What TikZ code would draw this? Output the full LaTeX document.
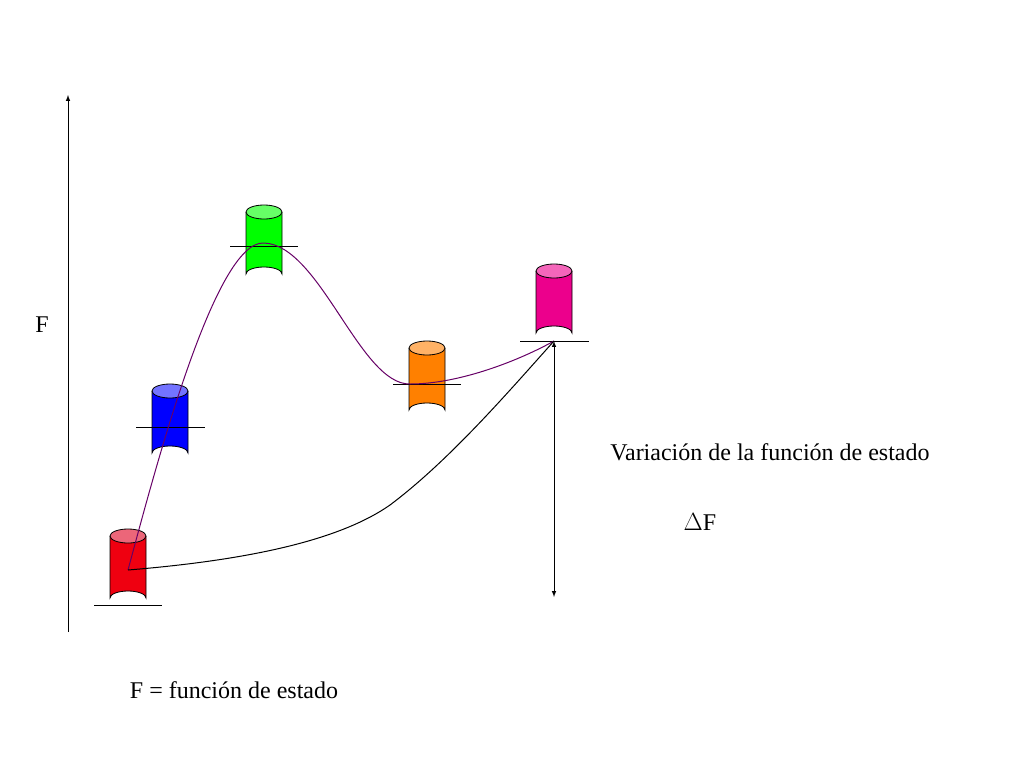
\documentclass[tikz,border=0pt]{standalone}
\usepackage{fontspec}
\setmainfont{Liberation Serif}
\begin{document}
\begin{tikzpicture}[x=1pt,y=-1pt,
  lvl/.style={line width=0.8pt},
  lbl/.style={font=\fontsize{24}{28}\selectfont,inner sep=0pt}]
\useasboundingbox (0,0) rectangle (1024,768);
\newcommand{\cyl}[5]{% x, ytop, ybot, body, top
  \fill[#4] (#1-18,#2) -- (#1-18,#3) arc[start angle=180,end angle=360,x radius=18,y radius=7] -- (#1+18,#2) -- cycle;
  \draw[line width=0.8pt] (#1-18,#2) -- (#1-18,#3) arc[start angle=180,end angle=360,x radius=18,y radius=7] -- (#1+18,#2);
  \filldraw[fill=#5,line width=0.8pt] (#1,#2) ellipse[x radius=18,y radius=7];}
\cyl{128}{536}{598}{red!75!purple}{red!50!purple!60!white}
\cyl{170}{391}{453}{blue}{blue!55!white}
\cyl{264}{212}{274}{green}{green!60!white}
\cyl{427}{348}{410}{orange}{orange!60!white}
\cyl{554}{271}{333}{magenta}{magenta!60!white}
\coordinate (r) at (128,570);
\coordinate (m) at (554,341);
\draw[lvl] (94,605) -- (162,605);
\draw[lvl] (136,427) -- (205,427);
\draw[lvl] (230,246) -- (298,246);
\draw[lvl] (393,384) -- (461,384);
\draw[lvl] (520,341) -- (589,341);
\draw[-latex,line width=1pt] (68,632) -- (68,95);
\node[lbl] (F) at (42,325) {F};
\draw[violet!80!black,line width=1pt] (r) .. controls (155,470) and (215,240) .. (264,243)
  .. controls (320,245) and (360,385) .. (410,384) .. controls (460,384) and (520,360) .. (m);
\draw[line width=1pt] (r) .. controls (250,560) and (340,540) .. (390,505) .. controls (450,460) and (510,390) .. (m);
\draw[latex-latex,line width=1pt] (m) -- (554,597);
\node[lbl] (v) at (770,452) {Variación de la función de estado};
\node[lbl] (d) at (700,522) {$\Delta$F};
\node[lbl] (f) at (234,690) {F = función de estado};
\end{tikzpicture}
\end{document}
